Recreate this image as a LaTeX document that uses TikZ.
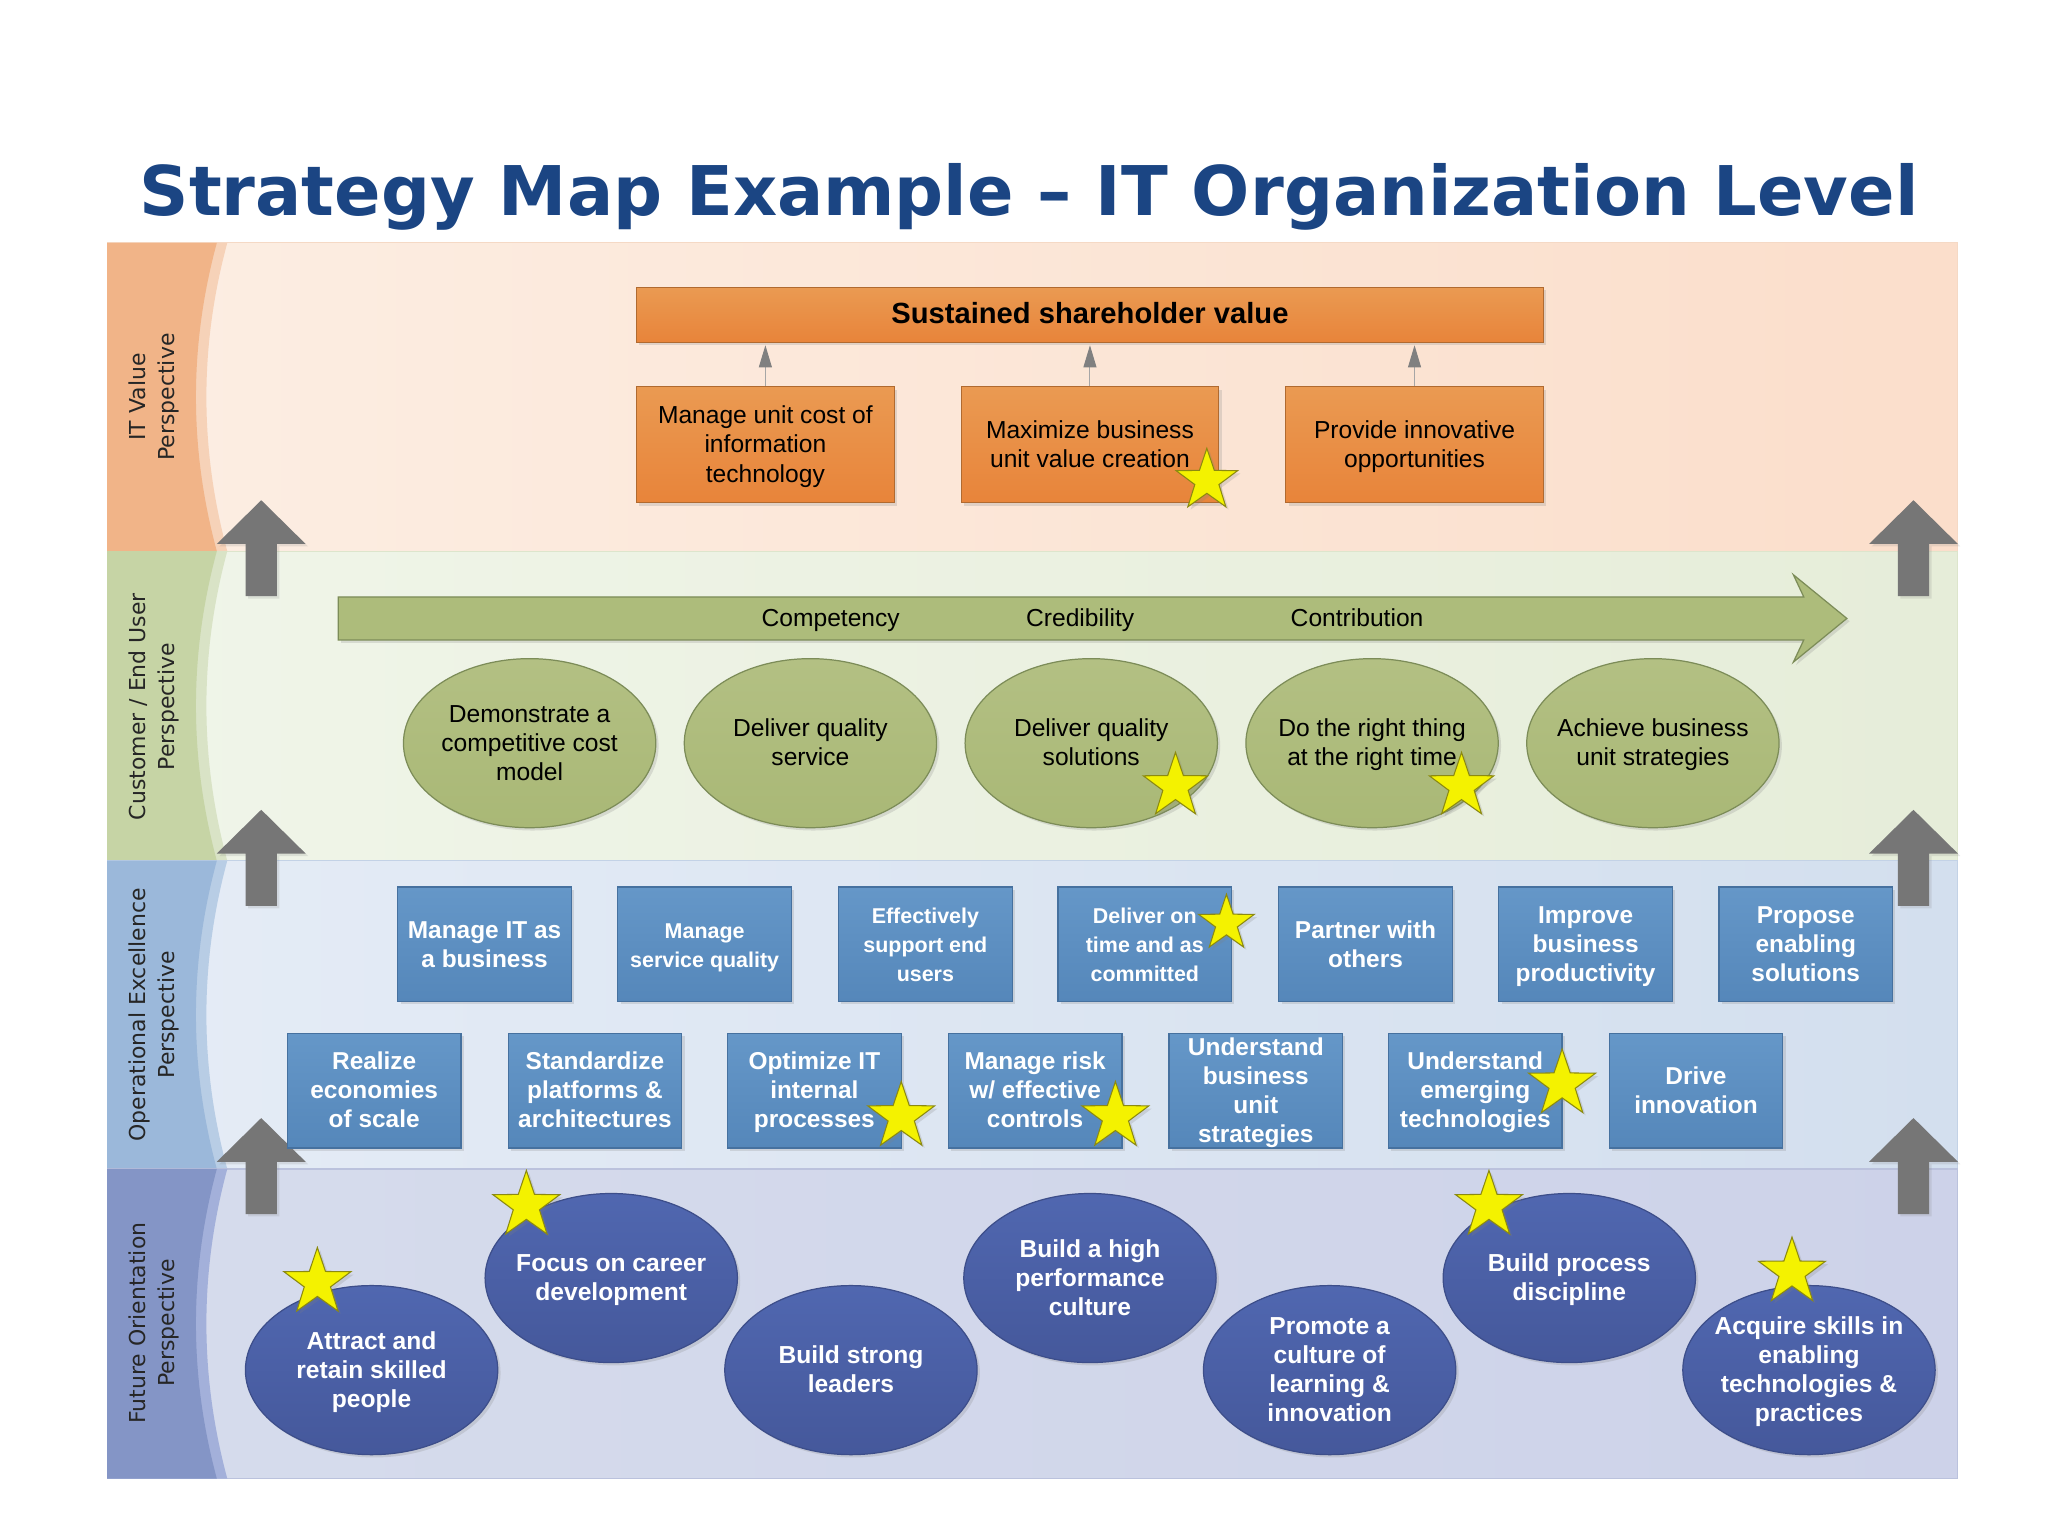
\documentclass[tikz,border=0pt]{standalone}
\usepackage{fontspec}
\setmainfont{Liberation Sans}
\newfontfamily\sidefont{DejaVu Sans}
\usetikzlibrary{shapes.geometric,shadows,arrows.meta}
\definecolor{titleblue}{HTML}{1B4583}
\newcommand{\tl}{\rule{0pt}{6.3pt}}
\newcommand{\perspectiveband}[7]{%
  \fill[left color=#5,right color=#6] (82,#1) rectangle (1499,#2);
  \draw[#7,line width=.3pt] (82,#1) rectangle (1499,#2);
  \pgfmathsetmacro{\ya}{#1+(#2-#1)/3}
  \pgfmathsetmacro{\yb}{#1+2*(#2-#1)/3}
  \fill[#4] (82,#1) -- (174,#1) .. controls (152.7,\ya) and (152.7,\yb) .. (174,#2) -- (82,#2) -- cycle;
  \fill[#3] (82,#1) -- (166,#1) .. controls (144.7,\ya) and (144.7,\yb) .. (166,#2) -- (82,#2) -- cycle;
}
\newcommand{\bigup}[2]{%
  \begin{scope}[shift={(#1,#2)}]
    \fill[fill=arrowgrey,drop shadow={shadow xshift=.7pt,shadow yshift=-.7pt,opacity=.18}]
      (0,0) -- (34,33.5) -- (12,33.5) -- (12,73.5) -- (-12,73.5) -- (-12,33.5) -- (-34,33.5) -- cycle;
  \end{scope}
}
\definecolor{arrowgrey}{HTML}{767676}
\definecolor{cOrangeLine}{HTML}{B06A30}
\definecolor{cOrangeTop}{HTML}{EA9A52}
\definecolor{cOrangeBot}{HTML}{E8843A}
\definecolor{cGreenLine}{HTML}{7C8C58}
\definecolor{cGreenTop}{HTML}{B3C083}
\definecolor{cGreenBot}{HTML}{A9B876}
\definecolor{cNavyLine}{HTML}{3D4E8A}
\definecolor{cNavyTop}{HTML}{5067B0}
\definecolor{cNavyBot}{HTML}{45589B}
\definecolor{cBlueLine}{HTML}{46719F}
\definecolor{cBlueTop}{HTML}{6597C8}
\definecolor{cBlueBot}{HTML}{5587BA}
\definecolor{cStarLine}{HTML}{8C8A10}
\definecolor{cStar}{HTML}{F4F200}
\definecolor{cLinkLine}{HTML}{A6A6A6}
\definecolor{cLinkTip}{HTML}{808080}
\tikzset{
  softshadow/.style={drop shadow={shadow xshift=.8pt,shadow yshift=-.8pt,opacity=.22}},
  evenlines/.style={execute at end node={\rule[-1.6pt]{0pt}{0pt}}},
  bodyfont/.style={font=\fontsize{7}{8.27}\selectfont},
  smallbold/.style={font=\fontsize{6.1}{8.27}\selectfont\bfseries},
  orangebox/.style={rectangle,draw=cOrangeLine,line width=.35pt,top color=cOrangeTop,bottom color=cOrangeBot,inner sep=0pt,minimum width=73.3pt,minimum height=33pt,align=center,softshadow,bodyfont,text=black,evenlines},
  topbox/.style={orangebox,minimum width=258.1pt,minimum height=15.6pt,font=\fontsize{8.3}{10}\selectfont\bfseries},
  greenoval/.style={ellipse,draw=cGreenLine,line width=.35pt,top color=cGreenTop,bottom color=cGreenBot,inner xsep=-8pt,inner ysep=-5pt,minimum width=71.8pt,minimum height=48.1pt,align=center,softshadow,bodyfont,text=black,evenlines},
  blueoval/.style={ellipse,draw=cNavyLine,line width=.35pt,top color=cNavyTop,bottom color=cNavyBot,inner xsep=-8pt,inner ysep=-5pt,minimum width=71.8pt,minimum height=48.1pt,align=center,softshadow,font=\fontsize{7}{8.27}\selectfont\bfseries,text=white,evenlines},
  bluebox/.style={rectangle,draw=cBlueLine,line width=.35pt,top color=cBlueTop,bottom color=cBlueBot,inner sep=0pt,minimum width=49.4pt,minimum height=32.6pt,align=center,softshadow,font=\fontsize{6.95}{8.27}\selectfont\bfseries,text=white,evenlines},
  goldstar/.style={star,star points=5,star point ratio=2.55,draw=cStarLine,line width=.3pt,fill=cStar,inner sep=0pt,minimum size=#1,softshadow},
  sidelabel/.style={rotate=90,align=center,text=black!85,font=\sidefont\fontsize{6.25}{8.2}\selectfont},
  flowlabel/.style={bodyfont,text=black,inner sep=0pt,anchor=base},
  uplink/.style={draw=cLinkLine,line width=.3pt,-{Triangle[length=6.3pt,width=3.7pt,color=cLinkTip,fill=cLinkTip]},shorten >=.7pt},
}
\definecolor{o1}{HTML}{F1B488}\definecolor{o2}{HTML}{F6D2B8}\definecolor{o3}{HTML}{FCEEE3}\definecolor{o4}{HTML}{FBDECB}\definecolor{o5}{HTML}{F5D9C5}
\definecolor{g1}{HTML}{C6D4A5}\definecolor{g2}{HTML}{D9E3C6}\definecolor{g3}{HTML}{F0F5E9}\definecolor{g4}{HTML}{E6EDD9}\definecolor{g5}{HTML}{DDE5CC}
\definecolor{b1}{HTML}{9BB8DA}\definecolor{b2}{HTML}{B8CDE5}\definecolor{b3}{HTML}{E5ECF6}\definecolor{b4}{HTML}{D3DFEE}\definecolor{b5}{HTML}{C3D2E6}
\definecolor{v1}{HTML}{8495C6}\definecolor{v2}{HTML}{A3B0DA}\definecolor{v3}{HTML}{D6DCEC}\definecolor{v4}{HTML}{CDD2E9}\definecolor{v5}{HTML}{BBC2DD}
\definecolor{bargreen}{HTML}{ADBC7B}
\definecolor{bardraw}{HTML}{7C8C58}
\begin{document}
\begin{tikzpicture}[x=0.0130612cm,y=-0.0130612cm]
\useasboundingbox (0,0) rectangle (1568,1176);
\fill[white] (0,0) rectangle (1568,1176);

\node[text=titleblue,font=\sidefont\bfseries\fontsize{19.5}{24}\selectfont,inner sep=0pt] (title) at (788,151) {Strategy Map Example – IT Organization Level};

\perspectiveband{186}{422}{o1}{o2}{o3}{o4}{o5}
\perspectiveband{422}{659}{g1}{g2}{g3}{g4}{g5}
\perspectiveband{659}{895}{b1}{b2}{b3}{b4}{b5}
\perspectiveband{895}{1132}{v1}{v2}{v3}{v4}{v5}

\node[sidelabel] (l1) at (118,304) {IT Value\\Perspective};
\node[sidelabel] (l2) at (118,541) {Customer / End User\\Perspective};
\node[sidelabel] (l3) at (118,777) {Operational Excellence\\Perspective};
\node[sidelabel] (l4) at (118,1013) {Future Orientation\\Perspective};

\bigup{200}{383}\bigup{200}{620}\bigup{200}{856}
\bigup{1465}{383}\bigup{1465}{620}\bigup{1465}{856}

% IT value
\node[topbox] (sv) at (834.5,241) {\tl Sustained shareholder value};
\node[orangebox] (o1n) at (586,340.5) {\tl Manage unit cost of\\information\\technology};
\node[orangebox] (o2n) at (834.5,340.5) {\tl Maximize business\\unit value creation};
\node[orangebox] (o3n) at (1083,340.5) {\tl Provide innovative\\opportunities};
\draw[uplink] (o1n.north) -- (o1n.north |- sv.south);
\draw[uplink] (o2n.north) -- (o2n.north |- sv.south);
\draw[uplink] (o3n.north) -- (o3n.north |- sv.south);

% customer
\fill[fill=bargreen,draw=bardraw,line width=.35pt,softshadow]
  (259,457) -- (1381,457) -- (1373,440) -- (1414,473.5) -- (1373,507) -- (1381,490) -- (259,490) -- cycle;
\node[flowlabel] (f1) at (636,480) {Competency};
\node[flowlabel] (f2) at (827,480) {Credibility};
\node[flowlabel] (f3) at (1039,480) {Contribution};

\node[greenoval] (c1) at (405.5,569) {\tl Demonstrate a\\competitive cost\\model};
\node[greenoval] (c2) at (620.5,569) {\tl Deliver quality\\service};
\node[greenoval] (c3) at (835.5,569) {\tl Deliver quality\\solutions};
\node[greenoval] (c4) at (1050.5,569) {\tl Do the right thing\\at the right time};
\node[greenoval] (c5) at (1265.5,569) {\tl Achieve business\\unit strategies};

% operational, row 1
\node[bluebox] (p1) at (371,723) {\tl Manage IT as\\a business};
\node[bluebox,smallbold] (p2) at (539.5,723) {\tl Manage\\service quality};
\node[bluebox,smallbold] (p3) at (708.5,723) {\tl Effectively\\support end\\users};
\node[bluebox,smallbold] (p4) at (876.5,723) {\tl Deliver on\\time and as\\committed};
\node[bluebox] (p5) at (1045.5,723) {\tl Partner with\\others};
\node[bluebox] (p6) at (1214,723) {\tl Improve\\business\\productivity};
\node[bluebox] (p7) at (1382.5,723) {\tl Propose\\enabling\\solutions};
% operational, row 2
\node[bluebox] (q1) at (286.5,835) {\tl Realize\\economies\\of scale};
\node[bluebox] (q2) at (455.5,835) {\tl Standardize\\platforms \&\\architectures};
\node[bluebox] (q3) at (623.5,835) {\tl Optimize IT\\internal\\processes};
\node[bluebox] (q4) at (792.5,835) {\tl Manage risk\\w/ effective\\controls};
\node[bluebox] (q5) at (961.5,835) {\tl Understand\\business\\unit\\strategies};
\node[bluebox] (q6) at (1129.5,835) {\tl Understand\\emerging\\technologies};
\node[bluebox] (q7) at (1298.5,835) {\tl Drive\\innovation};

% future
\node[blueoval] (e1) at (284.5,1049) {\tl Attract and\\retain skilled\\people};
\node[blueoval] (e2) at (468,978.5) {\tl Focus on career\\development};
\node[blueoval] (e3) at (651.5,1049) {\tl Build strong\\leaders};
\node[blueoval] (e4) at (834.5,978.5) {\tl Build a high\\performance\\culture};
\node[blueoval] (e5) at (1018,1049) {\tl Promote a\\culture of\\learning \&\\innovation};
\node[blueoval] (e6) at (1201.5,978.5) {\tl Build process\\discipline};
\node[blueoval] (e7) at (1385,1049) {\tl Acquire skills in\\enabling\\technologies \&\\practices};

% stars
\node[goldstar=18.4pt] (s1) at (924,368) {};
\node[goldstar=19.3pt] (s2) at (900,602) {};
\node[goldstar=19.3pt] (s3) at (1119,602) {};
\node[goldstar=16.6pt] (s4) at (939,707) {};
\node[goldstar=20pt] (s5) at (690,855) {};
\node[goldstar=20pt] (s6) at (854,855) {};
\node[goldstar=20pt] (s7) at (1196,830) {};
\node[goldstar=20pt] (s8) at (243,982) {};
\node[goldstar=20pt] (s9) at (403,923) {};
\node[goldstar=20pt] (s10) at (1140,923) {};
\node[goldstar=20pt] (s11) at (1372,974) {};
\end{tikzpicture}
\end{document}
